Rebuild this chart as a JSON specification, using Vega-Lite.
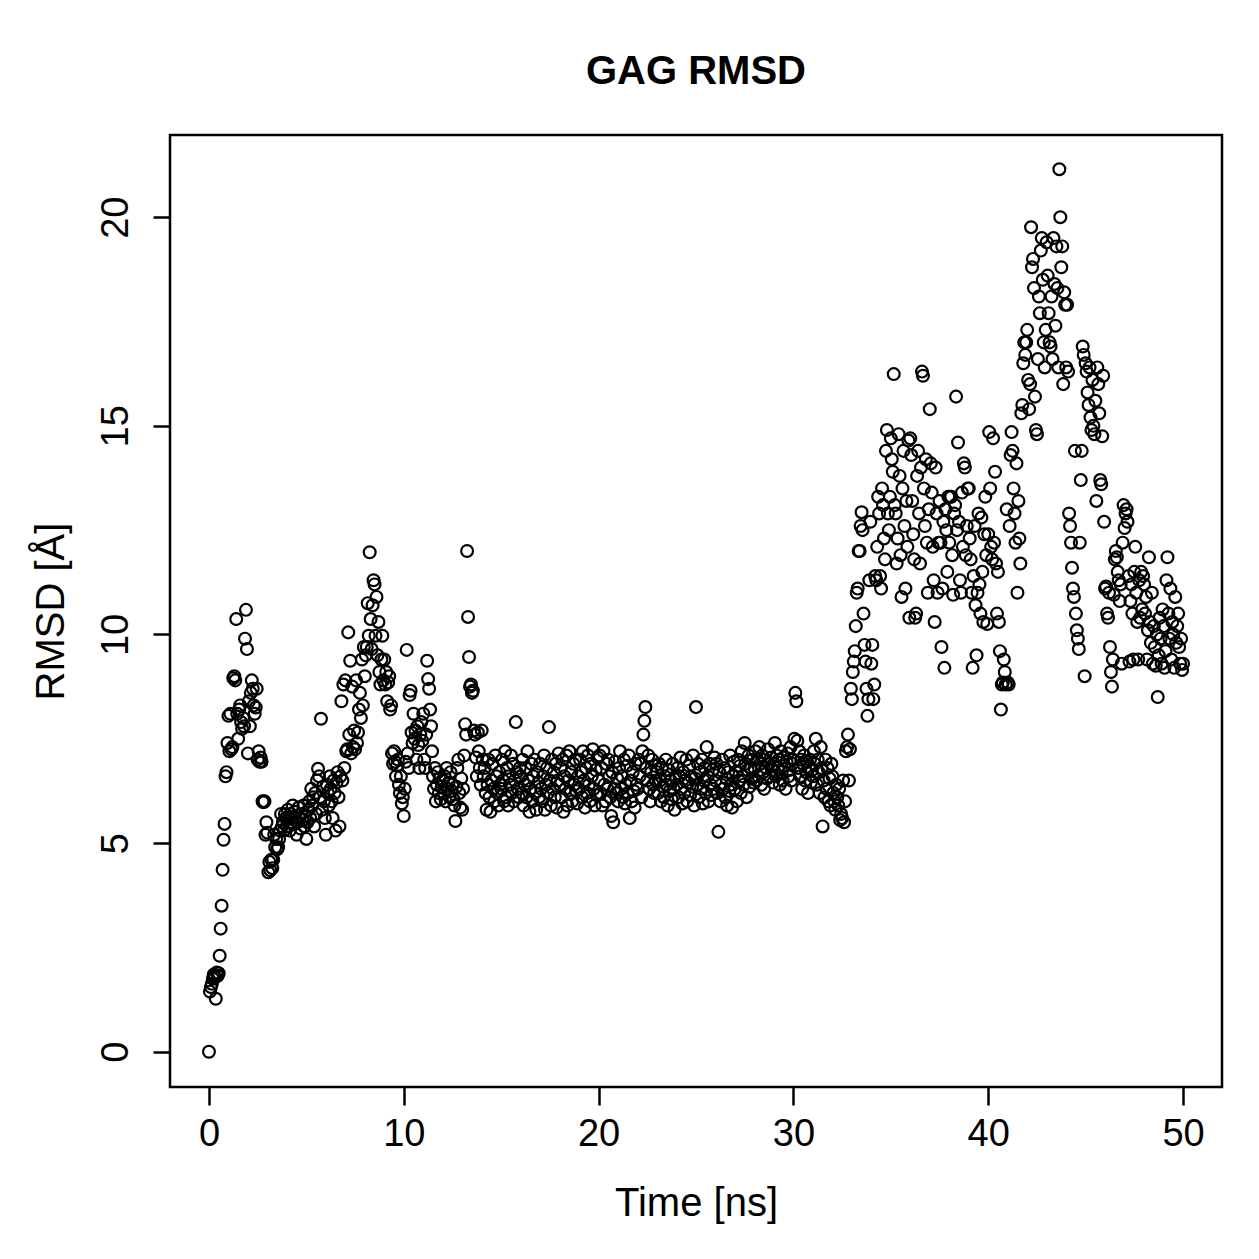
{
"$schema": "https://vega.github.io/schema/vega-lite/v6.json",
"autosize": "none",
"width": 1052,
"height": 952,
"padding": {"left": 170, "top": 135, "right": 37, "bottom": 172},
"background": "white",
"title": {"text": "GAG RMSD", "font": "Liberation Sans", "fontSize": 40, "fontWeight": "bold", "color": "black", "anchor": "middle", "baseline": "alphabetic", "offset": 11},
"config": {"view": {"stroke": "black", "strokeWidth": 2.5}},
"data": {"values": [
{"t":0,"r":0},{"t":0.05,"r":1.44},{"t":0.1,"r":1.55},{"t":0.15,"r":1.63},{"t":0.2,"r":1.75},{"t":0.25,"r":1.85},{"t":0.3,"r":1.78},{"t":0.35,"r":1.27},{"t":0.4,"r":1.9},{"t":0.45,"r":1.82},{"t":0.5,"r":1.88},{"t":0.55,"r":2.3},{"t":0.6,"r":2.95},{"t":0.65,"r":3.5},{"t":0.7,"r":4.36},{"t":0.75,"r":5.08},{"t":0.8,"r":5.46},{"t":0.85,"r":6.6},{"t":0.9,"r":6.7},{"t":0.95,"r":7.4},
{"t":1,"r":8.05},{"t":1.05,"r":7.2},{"t":1.1,"r":8.1},{"t":1.15,"r":7.25},{"t":1.2,"r":7.3},{"t":1.25,"r":8.95},{"t":1.3,"r":9.0},{"t":1.35,"r":8.9},{"t":1.4,"r":10.37},{"t":1.45,"r":8.1},{"t":1.5,"r":7.5},{"t":1.55,"r":8.2},{"t":1.6,"r":8.3},{"t":1.65,"r":7.9},{"t":1.7,"r":7.74},{"t":1.75,"r":8.0},{"t":1.8,"r":7.8},{"t":1.85,"r":9.9},{"t":1.9,"r":10.59},{"t":1.95,"r":9.65},
{"t":2,"r":7.15},{"t":2.05,"r":8.4},{"t":2.1,"r":7.8},{"t":2.15,"r":8.6},{"t":2.2,"r":8.9},{"t":2.25,"r":8.7},{"t":2.3,"r":8.3},{"t":2.35,"r":8.1},{"t":2.4,"r":8.25},{"t":2.45,"r":8.7},{"t":2.5,"r":7.0},{"t":2.55,"r":7.2},{"t":2.6,"r":6.95},{"t":2.65,"r":7.05},{"t":2.7,"r":6.95},{"t":2.75,"r":6.0},{"t":2.8,"r":5.98},{"t":2.85,"r":6.0},{"t":2.9,"r":5.2},{"t":2.95,"r":5.5},
{"t":3,"r":5.25},{"t":3.05,"r":4.3},{"t":3.1,"r":4.55},{"t":3.15,"r":4.35},{"t":3.2,"r":4.6},{"t":3.25,"r":4.4},{"t":3.3,"r":4.6},{"t":3.35,"r":5.2},{"t":3.4,"r":4.9},{"t":3.45,"r":5.1},{"t":3.5,"r":4.85},{"t":3.55,"r":4.9},{"t":3.6,"r":5.1},{"t":3.65,"r":5.3},{"t":3.7,"r":5.7},{"t":3.75,"r":5.4},{"t":3.8,"r":5.5},{"t":3.85,"r":5.3},{"t":3.9,"r":5.7},{"t":3.95,"r":5.6},
{"t":4,"r":5.4},{"t":4.05,"r":5.8},{"t":4.1,"r":5.6},{"t":4.15,"r":5.3},{"t":4.2,"r":5.7},{"t":4.25,"r":5.5},{"t":4.3,"r":5.9},{"t":4.35,"r":5.45},{"t":4.4,"r":5.75},{"t":4.45,"r":5.6},{"t":4.5,"r":5.2},{"t":4.55,"r":5.5},{"t":4.6,"r":5.85},{"t":4.65,"r":5.6},{"t":4.7,"r":5.35},{"t":4.75,"r":5.7},{"t":4.8,"r":5.55},{"t":4.85,"r":5.9},{"t":4.9,"r":5.4},{"t":4.95,"r":5.65},
{"t":5,"r":5.1},{"t":5.05,"r":5.5},{"t":5.1,"r":5.8},{"t":5.15,"r":6.0},{"t":5.2,"r":5.6},{"t":5.25,"r":6.3},{"t":5.3,"r":5.9},{"t":5.35,"r":6.1},{"t":5.4,"r":5.4},{"t":5.45,"r":6.2},{"t":5.5,"r":5.7},{"t":5.55,"r":6.5},{"t":5.6,"r":6.78},{"t":5.65,"r":6.6},{"t":5.7,"r":6.1},{"t":5.75,"r":7.98},{"t":5.8,"r":5.8},{"t":5.85,"r":6.35},{"t":5.9,"r":6.0},{"t":5.95,"r":5.6},
{"t":6,"r":5.2},{"t":6.05,"r":6.4},{"t":6.1,"r":6.2},{"t":6.15,"r":5.9},{"t":6.2,"r":6.6},{"t":6.25,"r":6.3},{"t":6.3,"r":6.0},{"t":6.35,"r":5.6},{"t":6.4,"r":6.5},{"t":6.45,"r":6.2},{"t":6.5,"r":5.3},{"t":6.55,"r":6.45},{"t":6.6,"r":6.7},{"t":6.65,"r":6.1},{"t":6.7,"r":5.4},{"t":6.75,"r":6.6},{"t":6.8,"r":8.4},{"t":6.85,"r":6.5},{"t":6.9,"r":8.8},{"t":6.95,"r":6.8},
{"t":7,"r":8.9},{"t":7.05,"r":7.2},{"t":7.1,"r":7.25},{"t":7.15,"r":10.05},{"t":7.2,"r":7.6},{"t":7.25,"r":9.37},{"t":7.3,"r":7.15},{"t":7.35,"r":8.75},{"t":7.4,"r":7.3},{"t":7.45,"r":7.7},{"t":7.5,"r":7.25},{"t":7.55,"r":8.9},{"t":7.6,"r":7.4},{"t":7.65,"r":7.65},{"t":7.7,"r":8.2},{"t":7.75,"r":8.6},{"t":7.8,"r":8.0},{"t":7.85,"r":9.4},{"t":7.9,"r":8.3},{"t":7.95,"r":9.7},
{"t":8,"r":9.0},{"t":8.05,"r":9.5},{"t":8.1,"r":9.7},{"t":8.15,"r":10.75},{"t":8.2,"r":9.97},{"t":8.25,"r":11.97},{"t":8.3,"r":10.37},{"t":8.35,"r":9.65},{"t":8.4,"r":10.7},{"t":8.45,"r":11.3},{"t":8.5,"r":11.2},{"t":8.55,"r":9.97},{"t":8.6,"r":10.9},{"t":8.65,"r":9.5},{"t":8.7,"r":10.3},{"t":8.75,"r":9.1},{"t":8.8,"r":8.8},{"t":8.85,"r":9.4},{"t":8.9,"r":9.97},{"t":8.95,"r":8.9},
{"t":9,"r":9.4},{"t":9.05,"r":8.8},{"t":9.1,"r":9.1},{"t":9.15,"r":8.4},{"t":9.2,"r":8.85},{"t":9.25,"r":9.0},{"t":9.3,"r":8.2},{"t":9.35,"r":8.3},{"t":9.4,"r":7.15},{"t":9.45,"r":6.9},{"t":9.5,"r":7.2},{"t":9.55,"r":6.95},{"t":9.6,"r":6.6},{"t":9.65,"r":6.85},{"t":9.7,"r":7.0},{"t":9.75,"r":6.4},{"t":9.8,"r":6.2},{"t":9.85,"r":6.6},{"t":9.9,"r":5.95},{"t":9.95,"r":6.1},
{"t":10,"r":5.65},{"t":10.05,"r":6.3},{"t":10.1,"r":6.95},{"t":10.15,"r":9.63},{"t":10.2,"r":7.15},{"t":10.25,"r":6.8},{"t":10.3,"r":8.55},{"t":10.35,"r":8.65},{"t":10.4,"r":7.65},{"t":10.45,"r":7.4},{"t":10.5,"r":8.1},{"t":10.55,"r":7.5},{"t":10.6,"r":7.7},{"t":10.65,"r":7.0},{"t":10.7,"r":7.8},{"t":10.75,"r":7.35},{"t":10.8,"r":6.8},{"t":10.85,"r":7.6},{"t":10.9,"r":7.9},{"t":10.95,"r":7.45},
{"t":11,"r":8.1},{"t":11.05,"r":7.0},{"t":11.1,"r":6.8},{"t":11.15,"r":7.6},{"t":11.2,"r":9.37},{"t":11.25,"r":8.93},{"t":11.3,"r":8.7},{"t":11.35,"r":8.2},{"t":11.4,"r":7.8},{"t":11.45,"r":7.2},{"t":11.5,"r":6.6},{"t":11.55,"r":6.3},{"t":11.6,"r":6.8},{"t":11.65,"r":6.0},{"t":11.7,"r":6.4},{"t":11.75,"r":6.7},{"t":11.8,"r":6.2},{"t":11.85,"r":6.55},{"t":11.9,"r":6.05},{"t":11.95,"r":6.35},
{"t":12,"r":6.5},{"t":12.05,"r":6.2},{"t":12.1,"r":6.6},{"t":12.15,"r":6.0},{"t":12.2,"r":6.8},{"t":12.25,"r":6.3},{"t":12.3,"r":6.45},{"t":12.35,"r":6.1},{"t":12.4,"r":6.7},{"t":12.45,"r":6.25},{"t":12.5,"r":6.4},{"t":12.55,"r":6.05},{"t":12.6,"r":5.9},{"t":12.65,"r":5.53},{"t":12.7,"r":6.35},{"t":12.75,"r":6.8},{"t":12.8,"r":7.0},{"t":12.85,"r":6.2},{"t":12.9,"r":5.85},{"t":12.95,"r":6.55},
{"t":13,"r":5.8},{"t":13.05,"r":6.3},{"t":13.1,"r":7.1},{"t":13.15,"r":7.85},{"t":13.2,"r":7.6},{"t":13.25,"r":12.0},{"t":13.3,"r":10.42},{"t":13.35,"r":9.46},{"t":13.4,"r":8.75},{"t":13.45,"r":8.8},{"t":13.5,"r":8.6},{"t":13.55,"r":8.65},{"t":13.6,"r":7.7},{"t":13.65,"r":7.6},{"t":13.7,"r":7.05},{"t":13.75,"r":6.6},{"t":13.8,"r":7.65},{"t":13.85,"r":7.2},{"t":13.9,"r":6.8},{"t":13.95,"r":6.4},
{"t":14,"r":7.7},{"t":14.05,"r":7.0},{"t":14.1,"r":6.6},{"t":14.15,"r":6.8},{"t":14.2,"r":6.2},{"t":14.25,"r":5.8},{"t":14.3,"r":6.4},{"t":14.35,"r":7.0},{"t":14.4,"r":6.1},{"t":14.45,"r":5.75},{"t":14.5,"r":6.5},{"t":14.55,"r":6.9},{"t":14.6,"r":6.3},{"t":14.65,"r":6.0},{"t":14.7,"r":7.1},{"t":14.75,"r":6.6},{"t":14.8,"r":6.2},{"t":14.85,"r":5.9},{"t":14.9,"r":6.7},{"t":14.95,"r":6.4},
{"t":15,"r":6.3},{"t":15.05,"r":7.0},{"t":15.1,"r":6.5},{"t":15.15,"r":6.0},{"t":15.2,"r":7.2},{"t":15.25,"r":6.1},{"t":15.3,"r":6.8},{"t":15.35,"r":5.9},{"t":15.4,"r":6.6},{"t":15.45,"r":6.4},{"t":15.5,"r":7.1},{"t":15.55,"r":6.2},{"t":15.6,"r":6.9},{"t":15.65,"r":6.0},{"t":15.7,"r":6.5},{"t":15.75,"r":7.9},{"t":15.8,"r":6.7},{"t":15.85,"r":6.3},{"t":15.9,"r":6.1},{"t":15.95,"r":6.8},
{"t":16,"r":6.6},{"t":16.05,"r":6.2},{"t":16.1,"r":7.0},{"t":16.15,"r":5.9},{"t":16.2,"r":6.4},{"t":16.25,"r":6.8},{"t":16.3,"r":6.1},{"t":16.35,"r":7.2},{"t":16.4,"r":6.5},{"t":16.45,"r":5.75},{"t":16.5,"r":6.3},{"t":16.55,"r":6.9},{"t":16.6,"r":6.0},{"t":16.65,"r":6.6},{"t":16.7,"r":7.0},{"t":16.75,"r":6.2},{"t":16.8,"r":5.8},{"t":16.85,"r":6.7},{"t":16.9,"r":6.45},{"t":16.95,"r":6.1},
{"t":17,"r":6.9},{"t":17.05,"r":6.3},{"t":17.1,"r":6.0},{"t":17.15,"r":6.6},{"t":17.2,"r":7.1},{"t":17.25,"r":5.8},{"t":17.3,"r":6.4},{"t":17.35,"r":6.8},{"t":17.4,"r":6.2},{"t":17.45,"r":7.78},{"t":17.5,"r":6.5},{"t":17.55,"r":5.9},{"t":17.6,"r":7.0},{"t":17.65,"r":6.3},{"t":17.7,"r":6.7},{"t":17.75,"r":6.1},{"t":17.8,"r":6.9},{"t":17.85,"r":5.85},{"t":17.9,"r":6.5},{"t":17.95,"r":7.15},
{"t":18,"r":6.4},{"t":18.05,"r":6.8},{"t":18.1,"r":6.1},{"t":18.15,"r":7.0},{"t":18.2,"r":5.75},{"t":18.25,"r":6.6},{"t":18.3,"r":6.3},{"t":18.35,"r":7.1},{"t":18.4,"r":5.9},{"t":18.45,"r":6.5},{"t":18.5,"r":7.2},{"t":18.55,"r":6.2},{"t":18.6,"r":6.7},{"t":18.65,"r":6.0},{"t":18.7,"r":6.9},{"t":18.75,"r":6.4},{"t":18.8,"r":7.0},{"t":18.85,"r":6.25},{"t":18.9,"r":5.95},{"t":18.95,"r":6.6},
{"t":19,"r":6.3},{"t":19.05,"r":7.0},{"t":19.1,"r":6.7},{"t":19.15,"r":6.1},{"t":19.2,"r":7.2},{"t":19.25,"r":6.5},{"t":19.3,"r":5.85},{"t":19.35,"r":6.8},{"t":19.4,"r":6.2},{"t":19.45,"r":7.1},{"t":19.5,"r":6.4},{"t":19.55,"r":6.0},{"t":19.6,"r":6.9},{"t":19.65,"r":6.6},{"t":19.7,"r":7.25},{"t":19.75,"r":6.3},{"t":19.8,"r":5.9},{"t":19.85,"r":6.75},{"t":19.9,"r":6.15},{"t":19.95,"r":7.05},
{"t":20,"r":6.5},{"t":20.05,"r":7.1},{"t":20.1,"r":6.2},{"t":20.15,"r":6.8},{"t":20.2,"r":5.9},{"t":20.25,"r":7.2},{"t":20.3,"r":6.4},{"t":20.35,"r":6.0},{"t":20.4,"r":6.9},{"t":20.45,"r":6.3},{"t":20.5,"r":7.0},{"t":20.55,"r":6.6},{"t":20.6,"r":6.1},{"t":20.65,"r":5.65},{"t":20.7,"r":6.7},{"t":20.75,"r":5.5},{"t":20.8,"r":6.3},{"t":20.85,"r":6.95},{"t":20.9,"r":6.2},{"t":20.95,"r":6.55},
{"t":21,"r":6.0},{"t":21.05,"r":6.8},{"t":21.1,"r":7.2},{"t":21.15,"r":6.3},{"t":21.2,"r":6.6},{"t":21.25,"r":6.1},{"t":21.3,"r":7.0},{"t":21.35,"r":5.95},{"t":21.4,"r":6.4},{"t":21.45,"r":6.85},{"t":21.5,"r":6.2},{"t":21.55,"r":7.1},{"t":21.6,"r":5.6},{"t":21.65,"r":6.5},{"t":21.7,"r":6.0},{"t":21.75,"r":6.7},{"t":21.8,"r":6.25},{"t":21.85,"r":5.85},{"t":21.9,"r":6.9},{"t":21.95,"r":6.4},
{"t":22,"r":6.3},{"t":22.05,"r":7.0},{"t":22.1,"r":6.6},{"t":22.15,"r":6.9},{"t":22.2,"r":6.1},{"t":22.25,"r":7.2},{"t":22.3,"r":7.6},{"t":22.35,"r":7.93},{"t":22.4,"r":8.26},{"t":22.45,"r":6.8},{"t":22.5,"r":6.5},{"t":22.55,"r":7.1},{"t":22.6,"r":6.3},{"t":22.65,"r":6.0},{"t":22.7,"r":6.7},{"t":22.75,"r":7.0},{"t":22.8,"r":6.4},{"t":22.85,"r":6.2},{"t":22.9,"r":6.85},{"t":22.95,"r":6.5},
{"t":23,"r":6.7},{"t":23.05,"r":6.2},{"t":23.1,"r":6.9},{"t":23.15,"r":6.5},{"t":23.2,"r":6.0},{"t":23.25,"r":6.8},{"t":23.3,"r":6.35},{"t":23.35,"r":6.1},{"t":23.4,"r":6.6},{"t":23.45,"r":7.0},{"t":23.5,"r":6.4},{"t":23.55,"r":5.9},{"t":23.6,"r":6.75},{"t":23.65,"r":6.25},{"t":23.7,"r":6.5},{"t":23.75,"r":6.05},{"t":23.8,"r":6.9},{"t":23.85,"r":6.3},{"t":23.9,"r":5.8},{"t":23.95,"r":6.6},
{"t":24,"r":6.4},{"t":24.05,"r":6.8},{"t":24.1,"r":6.1},{"t":24.15,"r":6.6},{"t":24.2,"r":7.05},{"t":24.25,"r":6.3},{"t":24.3,"r":5.95},{"t":24.35,"r":6.7},{"t":24.4,"r":6.2},{"t":24.45,"r":6.5},{"t":24.5,"r":7.0},{"t":24.55,"r":6.0},{"t":24.6,"r":6.45},{"t":24.65,"r":6.85},{"t":24.7,"r":6.15},{"t":24.75,"r":6.6},{"t":24.8,"r":6.35},{"t":24.85,"r":7.1},{"t":24.9,"r":5.9},{"t":24.95,"r":6.55},
{"t":25,"r":8.26},{"t":25.05,"r":6.4},{"t":25.1,"r":6.9},{"t":25.15,"r":6.1},{"t":25.2,"r":6.7},{"t":25.25,"r":6.3},{"t":25.3,"r":7.0},{"t":25.35,"r":5.95},{"t":25.4,"r":6.5},{"t":25.45,"r":6.8},{"t":25.5,"r":6.2},{"t":25.55,"r":7.3},{"t":25.6,"r":6.6},{"t":25.65,"r":6.0},{"t":25.7,"r":6.9},{"t":25.75,"r":6.4},{"t":25.8,"r":6.15},{"t":25.85,"r":6.75},{"t":25.9,"r":6.3},{"t":25.95,"r":7.05},
{"t":26,"r":6.5},{"t":26.05,"r":6.9},{"t":26.1,"r":6.2},{"t":26.15,"r":5.27},{"t":26.2,"r":6.7},{"t":26.25,"r":6.0},{"t":26.3,"r":6.4},{"t":26.35,"r":7.0},{"t":26.4,"r":6.3},{"t":26.45,"r":6.8},{"t":26.5,"r":6.1},{"t":26.55,"r":6.55},{"t":26.6,"r":5.9},{"t":26.65,"r":6.7},{"t":26.7,"r":6.25},{"t":26.75,"r":7.1},{"t":26.8,"r":6.4},{"t":26.85,"r":5.85},{"t":26.9,"r":6.6},{"t":26.95,"r":6.95},
{"t":27,"r":6.3},{"t":27.05,"r":6.7},{"t":27.1,"r":6.0},{"t":27.15,"r":7.0},{"t":27.2,"r":6.5},{"t":27.25,"r":6.85},{"t":27.3,"r":6.2},{"t":27.35,"r":7.2},{"t":27.4,"r":6.6},{"t":27.45,"r":6.4},{"t":27.5,"r":7.4},{"t":27.55,"r":6.9},{"t":27.6,"r":6.1},{"t":27.65,"r":6.75},{"t":27.7,"r":7.1},{"t":27.75,"r":6.35},{"t":27.8,"r":6.8},{"t":27.85,"r":6.55},{"t":27.9,"r":7.0},{"t":27.95,"r":6.45},
{"t":28,"r":6.8},{"t":28.05,"r":7.2},{"t":28.1,"r":6.5},{"t":28.15,"r":7.0},{"t":28.2,"r":6.6},{"t":28.25,"r":7.3},{"t":28.3,"r":6.9},{"t":28.35,"r":6.4},{"t":28.4,"r":7.1},{"t":28.45,"r":6.7},{"t":28.5,"r":6.3},{"t":28.55,"r":7.0},{"t":28.6,"r":6.8},{"t":28.65,"r":6.55},{"t":28.7,"r":7.25},{"t":28.75,"r":6.9},{"t":28.8,"r":6.6},{"t":28.85,"r":7.05},{"t":28.9,"r":6.75},{"t":28.95,"r":6.45},
{"t":29,"r":6.9},{"t":29.05,"r":7.4},{"t":29.1,"r":6.6},{"t":29.15,"r":7.1},{"t":29.2,"r":6.8},{"t":29.25,"r":7.0},{"t":29.3,"r":6.4},{"t":29.35,"r":7.2},{"t":29.4,"r":6.7},{"t":29.45,"r":6.5},{"t":29.5,"r":7.05},{"t":29.55,"r":6.85},{"t":29.6,"r":6.3},{"t":29.65,"r":6.95},{"t":29.7,"r":7.15},{"t":29.75,"r":6.6},{"t":29.8,"r":6.75},{"t":29.85,"r":7.3},{"t":29.9,"r":6.5},{"t":29.95,"r":6.9},
{"t":30,"r":7.0},{"t":30.05,"r":7.5},{"t":30.1,"r":8.6},{"t":30.15,"r":8.4},{"t":30.2,"r":7.45},{"t":30.25,"r":6.8},{"t":30.3,"r":7.2},{"t":30.35,"r":6.6},{"t":30.4,"r":7.0},{"t":30.45,"r":6.3},{"t":30.5,"r":6.9},{"t":30.55,"r":7.1},{"t":30.6,"r":6.5},{"t":30.65,"r":6.7},{"t":30.7,"r":6.95},{"t":30.75,"r":6.2},{"t":30.8,"r":6.8},{"t":30.85,"r":7.0},{"t":30.9,"r":6.45},{"t":30.95,"r":6.75},
{"t":31,"r":6.6},{"t":31.05,"r":7.2},{"t":31.1,"r":6.9},{"t":31.15,"r":7.5},{"t":31.2,"r":6.4},{"t":31.25,"r":7.0},{"t":31.3,"r":6.7},{"t":31.35,"r":6.2},{"t":31.4,"r":7.3},{"t":31.45,"r":6.8},{"t":31.5,"r":5.4},{"t":31.55,"r":6.5},{"t":31.6,"r":6.1},{"t":31.65,"r":7.0},{"t":31.7,"r":6.3},{"t":31.75,"r":6.8},{"t":31.8,"r":6.0},{"t":31.85,"r":6.55},{"t":31.9,"r":5.9},{"t":31.95,"r":6.9},
{"t":32,"r":6.6},{"t":32.05,"r":6.2},{"t":32.1,"r":6.0},{"t":32.15,"r":5.8},{"t":32.2,"r":6.4},{"t":32.25,"r":6.1},{"t":32.3,"r":5.9},{"t":32.35,"r":6.3},{"t":32.4,"r":5.55},{"t":32.45,"r":5.7},{"t":32.5,"r":5.6},{"t":32.55,"r":6.5},{"t":32.6,"r":5.5},{"t":32.65,"r":6.0},{"t":32.7,"r":7.2},{"t":32.75,"r":7.3},{"t":32.8,"r":7.6},{"t":32.85,"r":6.5},{"t":32.9,"r":7.25},{"t":32.95,"r":8.7},
{"t":33,"r":8.45},{"t":33.05,"r":9.1},{"t":33.1,"r":9.35},{"t":33.15,"r":9.6},{"t":33.2,"r":10.2},{"t":33.25,"r":11.0},{"t":33.3,"r":11.1},{"t":33.35,"r":12.0},{"t":33.4,"r":12.0},{"t":33.45,"r":12.6},{"t":33.5,"r":12.93},{"t":33.55,"r":12.5},{"t":33.6,"r":10.5},{"t":33.65,"r":9.75},{"t":33.7,"r":9.35},{"t":33.75,"r":8.7},{"t":33.8,"r":8.05},{"t":33.85,"r":8.45},{"t":33.9,"r":11.3},{"t":33.95,"r":12.7},
{"t":34,"r":9.3},{"t":34.05,"r":9.75},{"t":34.1,"r":8.45},{"t":34.15,"r":8.8},{"t":34.2,"r":11.4},{"t":34.25,"r":11.3},{"t":34.3,"r":12.1},{"t":34.35,"r":13.3},{"t":34.4,"r":12.9},{"t":34.45,"r":11.4},{"t":34.5,"r":11.1},{"t":34.55,"r":13.5},{"t":34.6,"r":13.1},{"t":34.65,"r":12.3},{"t":34.7,"r":11.8},{"t":34.75,"r":14.4},{"t":34.8,"r":14.9},{"t":34.85,"r":12.9},{"t":34.9,"r":12.5},{"t":34.95,"r":13.3},
{"t":35,"r":14.7},{"t":35.05,"r":14.2},{"t":35.1,"r":13.9},{"t":35.15,"r":16.24},{"t":35.2,"r":13.1},{"t":35.25,"r":12.9},{"t":35.3,"r":11.7},{"t":35.35,"r":12.3},{"t":35.4,"r":14.8},{"t":35.45,"r":13.8},{"t":35.5,"r":11.9},{"t":35.55,"r":10.9},{"t":35.6,"r":13.5},{"t":35.65,"r":14.4},{"t":35.7,"r":12.6},{"t":35.75,"r":11.1},{"t":35.8,"r":13.2},{"t":35.85,"r":12.1},{"t":35.9,"r":14.65},{"t":35.95,"r":10.4},
{"t":36,"r":14.7},{"t":36.05,"r":14.3},{"t":36.1,"r":13.2},{"t":36.15,"r":12.4},{"t":36.2,"r":11.8},{"t":36.25,"r":10.4},{"t":36.3,"r":10.5},{"t":36.35,"r":13.8},{"t":36.4,"r":14.4},{"t":36.45,"r":12.9},{"t":36.5,"r":11.7},{"t":36.55,"r":14.0},{"t":36.6,"r":16.3},{"t":36.65,"r":16.2},{"t":36.7,"r":13.5},{"t":36.75,"r":12.6},{"t":36.8,"r":14.2},{"t":36.85,"r":12.2},{"t":36.9,"r":11.0},{"t":36.95,"r":13.0},
{"t":37,"r":15.4},{"t":37.05,"r":14.1},{"t":37.1,"r":13.4},{"t":37.15,"r":12.1},{"t":37.2,"r":11.3},{"t":37.25,"r":10.3},{"t":37.3,"r":14.0},{"t":37.35,"r":12.9},{"t":37.4,"r":11.0},{"t":37.45,"r":12.2},{"t":37.5,"r":13.2},{"t":37.55,"r":12.2},{"t":37.6,"r":9.7},{"t":37.65,"r":11.1},{"t":37.7,"r":12.7},{"t":37.75,"r":9.2},{"t":37.8,"r":13.0},{"t":37.85,"r":12.5},{"t":37.9,"r":11.5},{"t":37.95,"r":13.3},
{"t":38,"r":12.2},{"t":38.05,"r":13.3},{"t":38.1,"r":13.3},{"t":38.15,"r":11.9},{"t":38.2,"r":10.95},{"t":38.25,"r":12.9},{"t":38.3,"r":13.1},{"t":38.35,"r":15.7},{"t":38.4,"r":12.5},{"t":38.45,"r":14.6},{"t":38.5,"r":12.7},{"t":38.55,"r":11.3},{"t":38.6,"r":11.0},{"t":38.65,"r":13.4},{"t":38.7,"r":12.1},{"t":38.75,"r":14.1},{"t":38.8,"r":14.0},{"t":38.85,"r":11.9},{"t":38.9,"r":12.6},{"t":38.95,"r":13.5},
{"t":39,"r":13.5},{"t":39.05,"r":12.3},{"t":39.1,"r":11.8},{"t":39.15,"r":11.0},{"t":39.2,"r":9.2},{"t":39.25,"r":11.4},{"t":39.3,"r":12.6},{"t":39.35,"r":10.7},{"t":39.4,"r":9.5},{"t":39.45,"r":11.0},{"t":39.5,"r":12.9},{"t":39.55,"r":11.2},{"t":39.6,"r":10.5},{"t":39.65,"r":12.8},{"t":39.7,"r":11.5},{"t":39.75,"r":10.3},{"t":39.8,"r":12.4},{"t":39.85,"r":13.3},{"t":39.9,"r":11.9},{"t":39.95,"r":10.25},
{"t":40,"r":12.4},{"t":40.05,"r":14.85},{"t":40.1,"r":13.5},{"t":40.15,"r":12.1},{"t":40.2,"r":11.8},{"t":40.25,"r":14.7},{"t":40.3,"r":12.2},{"t":40.35,"r":13.9},{"t":40.4,"r":11.7},{"t":40.45,"r":10.5},{"t":40.5,"r":11.5},{"t":40.55,"r":10.3},{"t":40.6,"r":9.6},{"t":40.65,"r":8.2},{"t":40.7,"r":8.8},{"t":40.75,"r":8.85},{"t":40.8,"r":9.4},{"t":40.85,"r":9.1},{"t":40.9,"r":8.8},{"t":40.95,"r":13.0},
{"t":41,"r":8.85},{"t":41.05,"r":8.8},{"t":41.1,"r":12.6},{"t":41.15,"r":14.3},{"t":41.2,"r":14.85},{"t":41.25,"r":14.4},{"t":41.3,"r":13.5},{"t":41.35,"r":12.9},{"t":41.4,"r":12.2},{"t":41.45,"r":14.1},{"t":41.5,"r":11.0},{"t":41.55,"r":13.2},{"t":41.6,"r":12.3},{"t":41.65,"r":11.7},{"t":41.7,"r":15.3},{"t":41.75,"r":15.5},{"t":41.8,"r":16.5},{"t":41.85,"r":17.0},{"t":41.9,"r":16.7},{"t":41.95,"r":17.0},
{"t":42,"r":17.3},{"t":42.05,"r":16.1},{"t":42.1,"r":15.4},{"t":42.15,"r":16.0},{"t":42.2,"r":19.76},{"t":42.25,"r":18.8},{"t":42.3,"r":19.0},{"t":42.35,"r":18.3},{"t":42.4,"r":15.7},{"t":42.45,"r":14.9},{"t":42.5,"r":14.8},{"t":42.55,"r":16.6},{"t":42.6,"r":18.1},{"t":42.65,"r":17.7},{"t":42.7,"r":19.2},{"t":42.75,"r":19.5},{"t":42.8,"r":18.5},{"t":42.85,"r":17.0},{"t":42.9,"r":16.4},{"t":42.95,"r":17.3},
{"t":43,"r":19.4},{"t":43.05,"r":18.6},{"t":43.1,"r":17.7},{"t":43.15,"r":17.0},{"t":43.2,"r":16.9},{"t":43.25,"r":18.1},{"t":43.3,"r":16.6},{"t":43.35,"r":19.5},{"t":43.4,"r":18.4},{"t":43.45,"r":17.4},{"t":43.5,"r":19.3},{"t":43.55,"r":18.3},{"t":43.6,"r":16.4},{"t":43.65,"r":21.15},{"t":43.7,"r":20.0},{"t":43.75,"r":18.8},{"t":43.8,"r":19.3},{"t":43.85,"r":16.0},{"t":43.9,"r":18.2},{"t":43.95,"r":17.9},
{"t":44,"r":16.4},{"t":44.05,"r":17.9},{"t":44.1,"r":16.3},{"t":44.15,"r":12.9},{"t":44.2,"r":12.6},{"t":44.25,"r":12.2},{"t":44.3,"r":11.6},{"t":44.35,"r":11.1},{"t":44.4,"r":10.9},{"t":44.45,"r":14.4},{"t":44.5,"r":10.5},{"t":44.55,"r":10.1},{"t":44.6,"r":9.9},{"t":44.65,"r":9.65},{"t":44.7,"r":12.2},{"t":44.75,"r":13.7},{"t":44.8,"r":14.4},{"t":44.85,"r":16.9},{"t":44.9,"r":16.7},{"t":44.95,"r":9.0},
{"t":45,"r":16.5},{"t":45.05,"r":16.3},{"t":45.1,"r":15.8},{"t":45.15,"r":15.5},{"t":45.2,"r":16.4},{"t":45.25,"r":15.2},{"t":45.3,"r":14.9},{"t":45.35,"r":16.1},{"t":45.4,"r":15.0},{"t":45.45,"r":14.8},{"t":45.5,"r":15.6},{"t":45.55,"r":13.2},{"t":45.6,"r":16.4},{"t":45.65,"r":16.0},{"t":45.7,"r":15.3},{"t":45.75,"r":13.7},{"t":45.8,"r":13.6},{"t":45.85,"r":14.75},{"t":45.9,"r":16.2},{"t":45.95,"r":12.7},
{"t":46,"r":11.1},{"t":46.05,"r":11.15},{"t":46.1,"r":10.5},{"t":46.15,"r":10.4},{"t":46.2,"r":11.0},{"t":46.25,"r":9.7},{"t":46.3,"r":9.1},{"t":46.35,"r":8.75},{"t":46.4,"r":9.4},{"t":46.45,"r":10.95},{"t":46.5,"r":11.8},{"t":46.55,"r":12.0},{"t":46.6,"r":11.85},{"t":46.65,"r":11.5},{"t":46.7,"r":11.3},{"t":46.75,"r":10.8},{"t":46.8,"r":11.2},{"t":46.85,"r":9.3},{"t":46.9,"r":12.2},{"t":46.95,"r":13.1},
{"t":47,"r":12.55},{"t":47.05,"r":12.9},{"t":47.1,"r":13.0},{"t":47.15,"r":12.7},{"t":47.2,"r":11.4},{"t":47.25,"r":9.35},{"t":47.3,"r":10.8},{"t":47.35,"r":11.2},{"t":47.4,"r":10.5},{"t":47.45,"r":9.4},{"t":47.5,"r":11.5},{"t":47.55,"r":12.1},{"t":47.6,"r":11.0},{"t":47.65,"r":10.3},{"t":47.7,"r":9.4},{"t":47.75,"r":11.3},{"t":47.8,"r":10.4},{"t":47.85,"r":11.5},{"t":47.9,"r":10.6},{"t":47.95,"r":11.4},
{"t":48,"r":11.2},{"t":48.05,"r":10.5},{"t":48.1,"r":10.9},{"t":48.15,"r":9.4},{"t":48.2,"r":10.1},{"t":48.25,"r":11.85},{"t":48.3,"r":10.3},{"t":48.35,"r":9.8},{"t":48.4,"r":11.0},{"t":48.45,"r":9.3},{"t":48.5,"r":10.2},{"t":48.55,"r":9.7},{"t":48.6,"r":9.25},{"t":48.65,"r":10.0},{"t":48.7,"r":8.5},{"t":48.75,"r":9.5},{"t":48.8,"r":10.4},{"t":48.85,"r":9.9},{"t":48.9,"r":9.3},{"t":48.95,"r":10.6},
{"t":49,"r":10.2},{"t":49.05,"r":9.2},{"t":49.1,"r":9.6},{"t":49.15,"r":11.3},{"t":49.2,"r":11.85},{"t":49.25,"r":10.5},{"t":49.3,"r":9.9},{"t":49.35,"r":11.1},{"t":49.4,"r":9.4},{"t":49.45,"r":10.3},{"t":49.5,"r":10.0},{"t":49.55,"r":9.2},{"t":49.6,"r":10.9},{"t":49.65,"r":9.8},{"t":49.7,"r":10.2},{"t":49.75,"r":10.5},{"t":49.8,"r":9.7},{"t":49.85,"r":9.3},{"t":49.9,"r":9.9},{"t":49.95,"r":9.15},
{"t":50,"r":9.3}
]},
"mark": {"type": "point", "shape": "circle", "filled": false, "stroke": "black", "strokeWidth": 2.2, "size": 140, "opacity": 1, "clip": true},
"encoding": {
"x": {"field": "t", "type": "quantitative",
  "scale": {"domain": [-2, 52], "nice": false, "zero": false},
  "axis": {"title": "Time [ns]", "values": [0, 10, 20, 30, 40, 50], "grid": false, "domain": false,
    "tickSize": 18, "tickWidth": 2.5, "tickColor": "black",
    "labelFont": "Liberation Sans", "labelFontSize": 38, "labelColor": "black", "labelPadding": 10, "labelBaseline": "top", "labelFlush": false,
    "titleFont": "Liberation Sans", "titleFontSize": 40, "titleFontWeight": "normal", "titleColor": "black",
    "titleX": 526, "titleY": 128, "titleBaseline": "alphabetic", "titleAlign": "center"}},
"y": {"field": "r", "type": "quantitative",
  "scale": {"domain": [-0.845, 21.97], "nice": false, "zero": false},
  "axis": {"title": "RMSD [Å]", "values": [0, 5, 10, 15, 20], "grid": false, "domain": false,
    "tickSize": 17, "tickWidth": 2.5, "tickColor": "black",
    "labelFont": "Liberation Sans", "labelFontSize": 38, "labelColor": "black", "labelAngle": -90, "labelAlign": "center", "labelBaseline": "alphabetic", "labelPadding": 26, "labelFlush": false,
    "titleFont": "Liberation Sans", "titleFontSize": 40, "titleFontWeight": "normal", "titleColor": "black",
    "titleAngle": -90, "titleX": -107, "titleY": 476, "titleBaseline": "alphabetic", "titleAlign": "center"}}
}
}
